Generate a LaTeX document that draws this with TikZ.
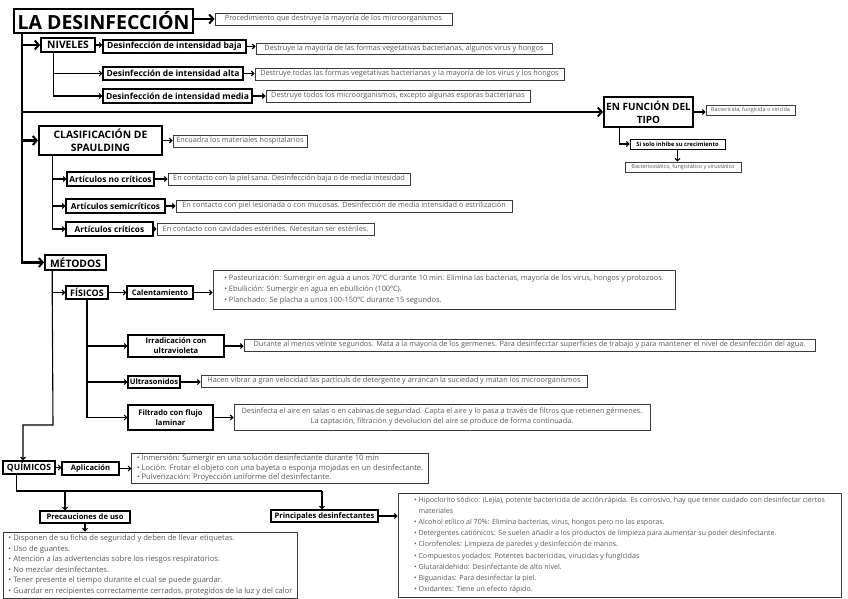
\documentclass[tikz,border=0pt]{standalone}
\usepackage{fontspec}
\setmainfont{Open Sans}
\usetikzlibrary{positioning,arrows.meta}
\definecolor{boxgray}{HTML}{3A3A3A}
\definecolor{txtgray}{HTML}{585858}

\begin{document}
\begin{tikzpicture}[
    x=1pt, y=-1pt,
    sz/.style 2 args={minimum width=#1pt, minimum height=#2pt},
    head/.style={draw, line width=1.8pt, inner sep=0pt, align=center, font=\bfseries\fontsize{10.3}{13}\selectfont},
    lbl/.style={draw, line width=1.1pt, inner sep=0pt, align=center, font=\bfseries\fontsize{7.6}{10}\selectfont},
    nivlbl/.style={lbl, font=\bfseries\fontsize{8.5}{10}\selectfont},
    artlbl/.style={lbl, font=\bfseries\fontsize{8.3}{10}\selectfont},
    desc/.style={draw=boxgray, line width=0.9pt, text=txtgray, inner sep=0pt, align=center, font=\fontsize{7.3}{10}\selectfont},
    lst/.style={desc, align=left, inner xsep=5pt, font=\fontsize{7.4}{10.6}\selectfont},
    tiny/.style={font=\fontsize{5.5}{6}\selectfont},
    trunk/.style={line width=2.6pt, -{Straight Barb[length=4pt,width=9pt,line width=2pt]}},
    link/.style={line width=1.1pt},
    >={Straight Barb[length=2.5pt,width=5pt]}
]
    \useasboundingbox (0,0) rectangle (848,599);

    % Title
    \node[draw, line width=2.8pt, sz={179}{24}, inner sep=0pt, font=\bfseries\fontsize{19.5}{21}\selectfont] (title) at (103.5,21) {LA DESINFECCIÓN};
    \node[desc, sz={237}{12}] (proc) at (333.5,19) {Procedimiento que destruye la mayoría de los microorganismos};
    \coordinate (trk) at (22,33);

    % Niveles
    \node[head, sz={54}{14}] (niveles) at (68,45) {NIVELES};
    \node[nivlbl, sz={143}{13}] (baja) at (174.5,46.5) {Desinfección de intensidad baja};
    \node[nivlbl, sz={140}{13}] (alta) at (173,73.5) {Desinfección de intensidad alta};
    \node[nivlbl, sz={149}{14}] (media) at (177.5,96) {Desinfección de intensidad media};
    \node[desc, sz={296}{11}] (bajad) at (404,48.5) {Destruye la mayoría de las formas vegetativas bacterianas, algunos virus y hongos};
    \node[desc, sz={309}{12}] (altad) at (409.5,74) {Destruye todas las formas vegetativas bacterianas y la mayoría de los virus y los hongos};
    \node[desc, sz={264}{12}] (mediad) at (398,96) {Destruye todos los microorganismos, excepto algunas esporas bacterianas};

    % En funcion del tipo
    \node[head, font=\bfseries\fontsize{10}{13}\selectfont, sz={89}{30}] (tipo) at (648.5,112) {EN FUNCIÓN DEL\\TIPO};
    \node[desc, tiny, sz={89}{10}] (tipod) at (750.5,110) {Bactericida, fungicida o viricida};
    \node[lbl, line width=0.9pt, font=\bfseries\fontsize{5.8}{7}\selectfont, sz={95}{10}] (inhibe) at (677.5,144) {Si solo inhibe su crecimiento};
    \node[desc, tiny, sz={116}{10}] (bacterio) at (683,167) {Bacteriostático, fungistático y virustático};

    % Spaulding
    \node[head, sz={123}{29}] (spauld) at (100.5,140.5) {CLASIFICACIÓN DE\\SPAULDING};
    \node[desc, sz={134}{12}] (spauldd) at (240,141) {Encuadra los materiales hospitalarios};
    \node[artlbl, sz={87}{14}] (nocrit) at (110.5,179) {Artículos no críticos};
    \node[artlbl, sz={99}{14}] (semi) at (115.5,206) {Artículos semicríticos};
    \node[artlbl, sz={87}{14}] (crit) at (109.5,229) {Artículos críticos};
    \node[desc, sz={242}{12}] (nocritd) at (289,179) {En contacto con la piel sana. Desinfección baja o de media intesidad};
    \node[desc, sz={336}{12}] (semid) at (344,206) {En contacto con piel lesionada o con mucosas. Desinfección de media intensidad o estrilización};
    \node[desc, sz={217}{12}] (critd) at (265.5,229) {En contacto con cavidades estériñes. Necesitan ser estériles.};

    % Metodos
    \node[head, sz={61}{15}] (metodos) at (75.5,262.5) {MÉTODOS};
    \node[head, line width=1.4pt, font=\bfseries\fontsize{9}{11}\selectfont, sz={42}{13}] (fisicos) at (87,292.5) {FÍSICOS};
    \node[lbl, sz={66}{13}] (cal) at (160,292.5) {Calentamiento};
    \node[lst, sz={462}{39}] (calist) at (444,289.5) {\textbullet\ Pasteurización: Sumergir en agua a unos 70ºC durante 10 min. Elimina las bacterias, mayoría de los virus, hongos y protozoos.\\
        \textbullet\ Ebullición: Sumergir en agua en ebullición (100ºC).\\
        \textbullet\ Planchado: Se placha a unos 100-150ºC durante 15 segundos.};
    \node[lbl, sz={96}{22}] (irr) at (176,346) {Irradicación con\\ultravioleta};
    \node[desc, sz={571}{12}] (irrd) at (529.5,345) {Durante al menos veinte segundos. Mata a la mayoría de los germenes. Para desinfecctar superficies de trabajo y para mantener el nivel de desinfección del agua.};
    \node[lbl, sz={52}{12}] (ultra) at (154,382) {Ultrasonidos};
    \node[desc, sz={386}{12}] (ultrad) at (394,381) {Hacen vibrar a gran velocidad las partículs de detergente y arrancan la suciedad y matan los microorganismos};
    \node[lbl, sz={85}{25}] (filt) at (170.5,417.5) {Filtrado con flujo\\laminar};
    \node[desc, sz={416}{26}] (filtd) at (442,417) {Desinfecta el aire en salas o en cabinas de seguridad. Capta el aire y lo pasa a través de filtros que retienen gérmenes.\\
        La captación, filtración y devolucion del aire se produce de forma continuada.};
    \coordinate (mturn) at (53,425);
    \coordinate (qturn) at (23,425);

    % Quimicos
    \node[head, line width=1.4pt, font=\bfseries\fontsize{8.6}{11}\selectfont, sz={52}{13}] (quimicos) at (29,467.5) {QUÍMICOS};
    \node[lbl, sz={57}{13}] (aplic) at (90.5,468.5) {Aplicación};
    \node[lst, sz={294}{30}, font=\fontsize{7.6}{9.6}\selectfont] (aplist) at (280,468) {\textbullet\ Inmersión: Sumergir en una solución desinfectante durante 10 min\\
        \textbullet\ Loción: Frotar el objeto con una bayeta o esponja mojadas en un desinfectante.\\
        \textbullet\ Pulverización: Proyección uniforme del desinfectante.};
    \coordinate (busL) at (65,491);
    \coordinate (busR) at (322,491);
    \node[lbl, sz={90}{12}] (precau) at (85,517) {Precauciones de uso};
    \node[lbl, sz={107}{12}] (princ) at (324.5,516) {Principales desinfectantes};
    \node[lst, sz={291}{66}, font=\fontsize{7.6}{10.6}\selectfont] (preclist) at (150.5,565) {\textbullet\ Disponen de su ficha de seguridad y deben de llevar etiquetas.\\
        \textbullet\ Uso de guantes.\\
        \textbullet\ Atencion a las advertencias sobre los riesgos respiratorios.\\
        \textbullet\ No mezclar desinfectantes.\\
        \textbullet\ Tener presente el tiempo durante el cual se puede guardar.\\
        \textbullet\ Guardar en recipientes correctamente cerrados, protegidos de la luz y del calor};
    \node[lst, sz={443}{104}, font=\fontsize{7.1}{11.2}\selectfont] (prinlist) at (619.5,545) {\textbullet\ Hipoclorito sódico: (Lejía), potente bactericida de acción rápida. Es corrosivo, hay que tener cuidado con desinfectar ciertos\\
        \phantom{\textbullet\ }materiales\\
        \textbullet\ Alcohol etílico al 70\%: Elimina bacterias, virus, hongos pero no las esporas.\\
        \textbullet\ Detergentes catiónicos: Se suelen añadir a los productos de limpieza para aumentar su poder desinfectante.\\
        \textbullet\ Clorofenoles: Limpieza de paredes y desinfección de manos.\\
        \textbullet\ Compuestos yodados: Potentes bactericidas, virucidas y fungicidas\\
        \textbullet\ Glutaraldehido: Desinfectante de alto nivel.\\
        \textbullet\ Biguanidas: Para desinfectar la piel.\\
        \textbullet\ Oxidantes: Tiene un efecto rápido.};

    % Edges
    \draw[trunk, line width=1.8pt] (proc.west -| title.east) -- (proc.west);
    \draw[trunk] (trk) |- (niveles);
    \draw[trunk] (trk) |- (tipo);
    \draw[trunk] (trk) |- (spauld);
    \draw[trunk] (trk) |- (metodos);

    \draw[link,->] (niveles.east) -- (niveles.east -| baja.west);
    \draw[link,->] ([xshift=13pt]niveles.south west) |- (alta);
    \draw[link,->] ([xshift=13pt]niveles.south west) |- (media);
    \draw[link,->] (baja.east) -- (baja.east -| bajad.west);
    \draw[link,->] (alta.east) -- (alta.east -| altad.west);
    \draw[link,->] (media.east) -- (media.east -| mediad.west);

    \draw[link,->] (tipo.east) -- (tipo.east -| tipod.west);
    \draw[link,->] ([xshift=16pt]tipo.south west) |- (inhibe);
    \draw[link,->] (inhibe.south) -- (inhibe.south |- bacterio.north);

    \draw[link,->] (spauld.east) -- (spauld.east -| spauldd.west);
    \draw[link,->] ([xshift=14pt]spauld.south west) |- (nocrit);
    \draw[link,->] ([xshift=14pt]spauld.south west) |- (semi);
    \draw[link,->] ([xshift=14pt]spauld.south west) |- (crit);
    \draw[link,->] (nocrit.east) -- (nocrit.east -| nocritd.west);
    \draw[link,->] (semi.east) -- (semi.east -| semid.west);
    \draw[link,->] (crit.east) -- (crit.east -| critd.west);

    \draw[link,->] ([xshift=8pt]metodos.south west) |- (fisicos);
    \draw[link,->] ([xshift=8pt]metodos.south west) -- (mturn) -- (qturn) -- (qturn |- quimicos.north);
    \draw[link,->] (fisicos) -- (cal);
    \draw[link,->] (cal.east) -- (cal.east -| calist.west);
    \draw[link,->] (fisicos.south) |- (irr);
    \draw[link,->] (fisicos.south) |- (ultra);
    \draw[link,->] (fisicos.south) |- (filt);
    \draw[link,->] (irr.east) -- (irr.east -| irrd.west);
    \draw[link,->] (ultra.east) -- (ultra.east -| ultrad.west);
    \draw[link,->] (filt.east) -- (filt.east -| filtd.west);

    \draw[link,->] (quimicos.east) -- (quimicos.east -| aplic.west);
    \draw[link,->] (aplic.east) -- (aplic.east -| aplist.west);
    \draw[link] ([xshift=14pt]quimicos.south west) |- (busR);
    \draw[link,->] (busL) -- (busL |- precau.north);
    \draw[link,->] (busR) -- (busR |- princ.north);
    \draw[link,->] (precau.south) -- (precau.south |- preclist.north);
    \draw[link,->] (princ.east) -- (princ.east -| prinlist.west);
\end{tikzpicture}
\end{document}
